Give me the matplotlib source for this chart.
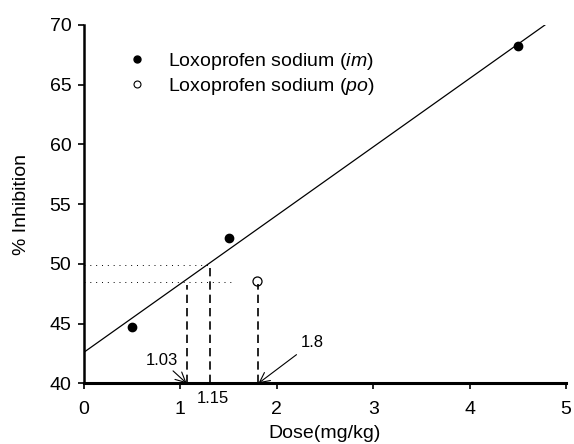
import numpy as np
import matplotlib
matplotlib.use('Agg')
import matplotlib.pyplot as plt
from matplotlib.lines import Line2D

plt.rcParams['font.family'] = ['Liberation Sans', 'DejaVu Sans']
plt.rcParams['mathtext.fontset'] = 'custom'
plt.rcParams['mathtext.it'] = 'Liberation Sans:italic'
plt.rcParams['mathtext.rm'] = 'Liberation Sans'

# 数据
im_dose = [0.5, 1.5, 4.5]
im_inhib = [44.7, 52.2, 68.2]
po_dose = [1.8]
po_inhib = [48.6]

# 回归直线
slope = 5.73
intercept = 42.6

# 辅助线 (按图中位置读取)
ed50_im_x = 1.31
ed50_im_y = 49.9
lower_y = 48.45
lower_end = 1.52
x_103 = 1.065
x_18 = 1.81

fig = plt.figure(figsize=(5.74, 4.44), dpi=100)
ax = fig.add_axes([0.1463, 0.1367, 0.8397, 0.807])

# 回归线
x_end = (70 - intercept) / slope
xl = np.array([0, x_end])
ax.plot(xl, intercept + slope * xl, 'k-', lw=0.9)

# 点
ax.plot(im_dose, im_inhib, 'o', color='k', ms=6)
ax.plot(po_dose, po_inhib, 'o', mfc='white', mec='k', ms=6.5, mew=0.9)

# 点线
ax.plot([0, ed50_im_x], [ed50_im_y, ed50_im_y], color='k', ls=(0, (1, 5)), lw=0.7)
ax.plot([0, lower_end], [lower_y, lower_y], color='k', ls=(0, (1, 5)), lw=0.7)

# 虚线
ax.plot([x_103, x_103], [40, intercept + slope * x_103 - 0.5], 'k', ls=(0, (5, 3)), lw=1.2)
ax.plot([ed50_im_x, ed50_im_x], [40, ed50_im_y], 'k', ls=(0, (5, 3)), lw=1.2)
ax.plot([x_18, x_18], [40, po_inhib[0] - 0.3], 'k', ls=(0, (5, 3)), lw=1.2)

# 标注
ax.annotate('1.03', xy=(x_103, 40), xytext=(0.64, 41.9), fontsize=12,
            ha='left', va='center',
            arrowprops=dict(arrowstyle='->', color='k', lw=0.8, shrinkA=0, shrinkB=0,
                            mutation_scale=18))
ax.text(1.34, 38.75, '1.15', fontsize=12, ha='center', va='center')
ax.annotate('1.8', xy=(x_18, 40), xytext=(2.25, 43.4), fontsize=12,
            ha='left', va='center',
            arrowprops=dict(arrowstyle='->', color='k', lw=0.8, shrinkA=2, shrinkB=0,
                            mutation_scale=18))

ax.set_xlim(0, 5)
ax.set_ylim(40, 70)
ax.set_xticks([0, 1, 2, 3, 4, 5])
ax.set_yticks([40, 45, 50, 55, 60, 65, 70])
ax.tick_params(labelsize=14, direction='out', length=4, width=1.2, pad=9)
ax.tick_params(axis='y', pad=5)
for s in ['top', 'right']:
    ax.spines[s].set_visible(False)
ax.spines['left'].set_linewidth(1.8)
ax.spines['bottom'].set_linewidth(2.2)

ax.set_xlabel('Dose(mg/kg)', fontsize=14, labelpad=5)
ax.set_ylabel('% Inhibition', fontsize=14, labelpad=14)

handles = [Line2D([], [], marker='o', ls='none', color='k', ms=5),
           Line2D([], [], marker='o', ls='none', mfc='white', mec='k', ms=5, mew=0.8)]
labels = ['Loxoprofen sodium ($\\it{im}$)', 'Loxoprofen sodium ($\\it{po}$)']
ax.legend(handles, labels, loc='upper left', bbox_to_anchor=(0.065, 0.955), frameon=False,
          fontsize=14, handletextpad=1.0, labelspacing=0.2, borderpad=0, handlelength=1.2)

plt.savefig('out.png', dpi=100)
